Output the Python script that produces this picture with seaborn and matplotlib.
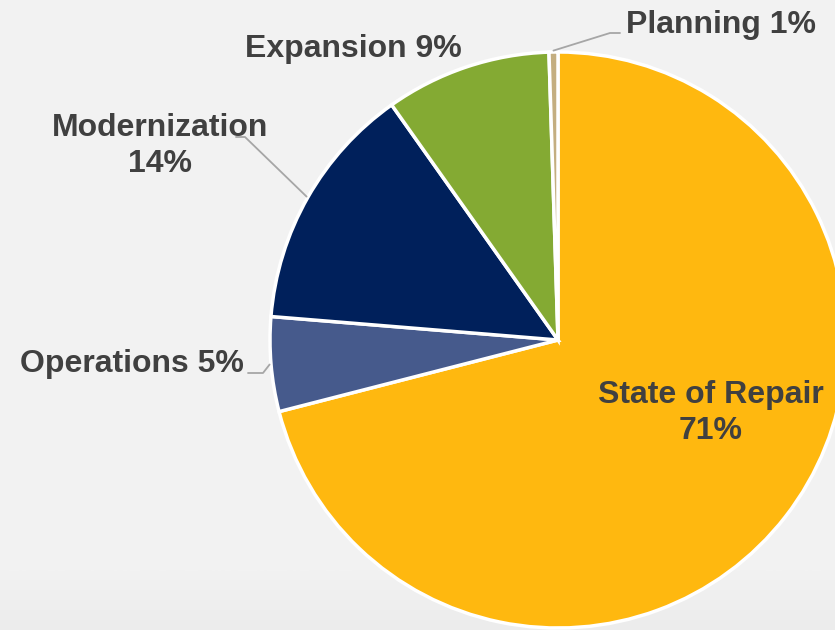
import numpy as np
import matplotlib.pyplot as plt
import seaborn as sns

# slice data, clockwise from 12 o'clock
categories = ["State of Repair", "Operations", "Modernization", "Expansion", "Planning"]
shares = [71.0, 5.3, 13.9, 9.3, 0.5]
labels = ["State of Repair\n71%", "Operations 5%", "Modernization\n14%", "Expansion 9%", "Planning 1%"]
colors = ["#FFB80F", "#465A8C", "#00205B", "#84AA33", "#C4AE80"]

W, H = 835, 630
CX, CY, R = 558, 340, 288  # pie centre / radius in pixels


def px(x, y):
  """pixel position -> data coords (pie radius = 1)"""
  return (x - CX) / R, (CY - y) / R


sns.set_theme(style="white")
plt.rcParams['font.family'] = ['Liberation Sans', 'DejaVu Sans']

fig = plt.figure(figsize=(W / 100, H / 100), dpi=100)
fig.patch.set_facecolor("#F2F2F2")
ax = fig.add_axes([0, 0, 1, 1])
ax.set_facecolor("#F2F2F2")

# faint gradient along the bottom edge
x0, y0 = px(0, H)
x1, y1 = px(W, H - 60)
grad = np.linspace(0, 1, 60).reshape(-1, 1)
ax.imshow(grad, extent=[x0, x1, y0, y1], cmap=sns.blend_palette(["#ECECEC", "#F2F2F2"], as_cmap=True),
          aspect="auto", zorder=0, origin="lower")

wedges, _ = ax.pie(shares, colors=sns.color_palette(colors), startangle=90, counterclock=False,
                   radius=1, wedgeprops=dict(edgecolor="white", linewidth=2.5))
for w in wedges:
  w.set_zorder(2)

txt = dict(fontsize=23, fontweight="bold", color="#404040", ha="center", va="center",
           linespacing=1.28, zorder=4)
label_pos = {
    "State of Repair": (711, 413),
    "Operations": (132, 364),
    "Modernization": (160, 146),
    "Expansion": (353, 49),
    "Planning": (721, 25),
}
for cat, lab in zip(categories, labels):
  ax.text(*px(*label_pos[cat]), lab, **txt)

# leader lines: (elbow, end) in pixels, start on the wedge rim
leaders = {
    "Planning": ((610, 33), (620, 33)),
    "Modernization": ((245, 137), (236, 137)),
    "Operations": ((263, 373), (248, 373)),
}
for w, cat in zip(wedges, categories):
  if cat not in leaders:
    continue
  ang = np.deg2rad((w.theta1 + w.theta2) / 2)
  sx, sy = np.cos(ang) * 1.005, np.sin(ang) * 1.005
  (ex, ey), (tx, ty) = [px(*p) for p in leaders[cat]]
  ax.plot([sx, ex, tx], [sy, ey, ty], color="#A6A6A6", lw=1.3, zorder=3)

xl, yt = px(0, 0)
xr, yb = px(W, H)
ax.set_xlim(xl, xr)
ax.set_ylim(yb, yt)
ax.set_aspect("auto")
ax.axis("off")

fig.savefig("out.png", dpi=100, facecolor=fig.get_facecolor())
